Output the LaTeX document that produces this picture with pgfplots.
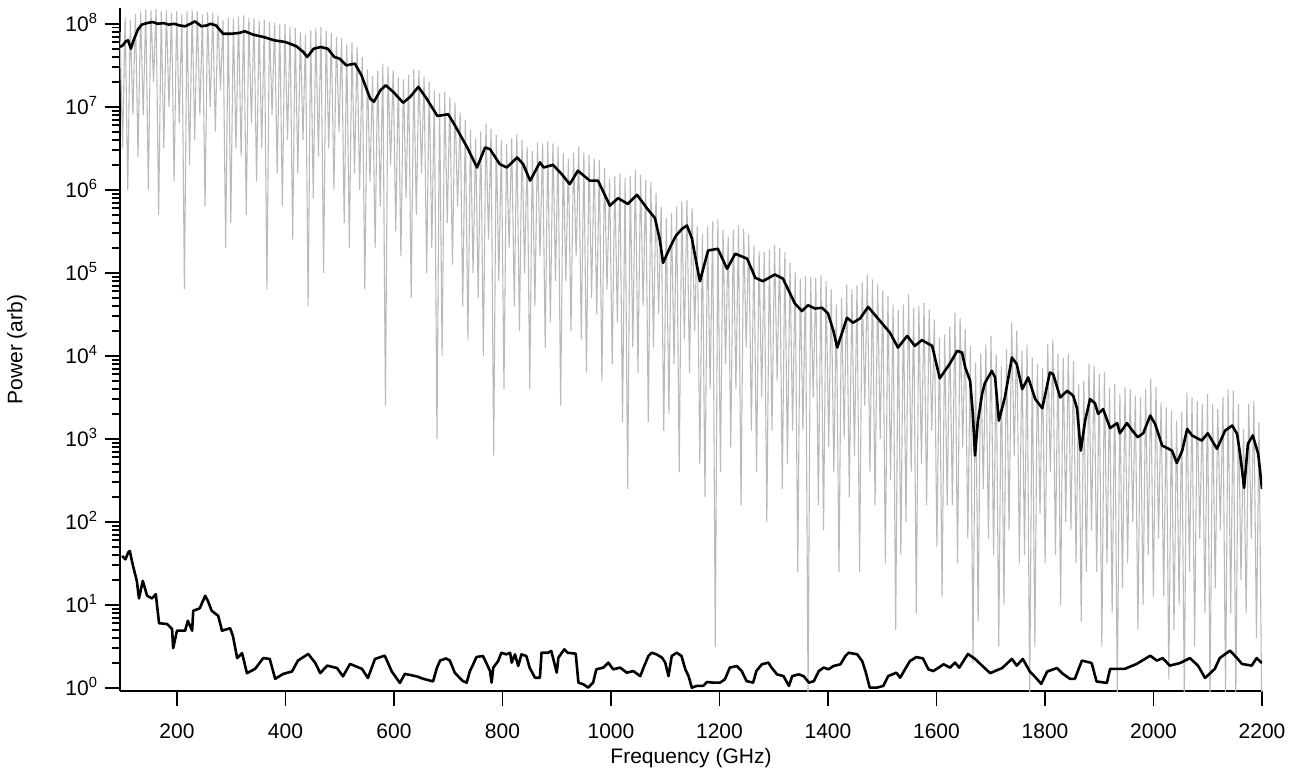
\documentclass[border=0pt]{standalone}
\usepackage{fontspec}
\setmainfont{Liberation Sans}
\usepackage{pgfplots}
\pgfplotsset{compat=1.18}
\definecolor{graytrace}{RGB}{186,186,186}
\begin{document}
\begin{tikzpicture}
\useasboundingbox (-60pt,-42.5pt) rectangle (586.5pt,345.5pt);
\begin{axis}[
  scale only axis, width=571pt, height=341.5pt,
  ymode=log, xmin=95, xmax=2200, ymin=0.92, ymax=1.55e8,
  axis x line*=bottom, axis y line*=left,
  axis line style={line width=1pt,-},
  tick align=outside,
  major tick length=7.5pt, minor tick length=4pt,
  every tick/.style={black, line width=0.9pt},
  xtick={200,400,...,2200},
  ytick={1,1e1,1e2,1e3,1e4,1e5,1e6,1e7,1e8},
  yticklabels={10\textsuperscript{0},10\textsuperscript{1},10\textsuperscript{2},10\textsuperscript{3},10\textsuperscript{4},10\textsuperscript{5},10\textsuperscript{6},10\textsuperscript{7},10\textsuperscript{8}},
  minor ytick={2,3,4,5,6,7,8,9,20,30,40,50,60,70,80,90,200,300,400,500,600,700,800,900,2e3,3e3,4e3,5e3,6e3,7e3,8e3,9e3,2e4,3e4,4e4,5e4,6e4,7e4,8e4,9e4,2e5,3e5,4e5,5e5,6e5,7e5,8e5,9e5,2e6,3e6,4e6,5e6,6e6,7e6,8e6,9e6,2e7,3e7,4e7,5e7,6e7,7e7,8e7,9e7},
  /pgf/number format/assume math mode=true,
  /pgf/number format/1000 sep={},
  tick label style={font=\fontsize{10.5}{12}\selectfont},
  label style={font=\fontsize{10.5}{12}\selectfont},
  yticklabel style={anchor=base east, yshift=-3.7pt},
  xticklabel style={yshift=-5.5pt},
  xlabel={Frequency (GHz)}, ylabel={Power (arb)},
  xlabel style={at={(axis description cs:0.5,-0.098)}, anchor=center},
  ylabel style={at={(axis description cs:-0.0902,0.5)}, anchor=center, rotate=0},
  clip=true,
]
\addplot[graytrace, line width=0.55pt] coordinates {
(95,7.94e7)(99.75,3.16e6)(104.5,1.20e8)(109.25,1e6)(114,1.12e8)(118.75,7.94e6)(123.5,1.32e8)(128.25,2.51e6)(133,1.41e8)(137.75,7.94e6)(142.5,1.48e8)(147.25,1e6)(152,1.45e8)(156.75,2e7)(161.5,1.51e8)(166.25,5.01e5)(171,1.41e8)(175.75,3.16e6)(180.5,1.45e8)(185.25,1e7)(190,1.35e8)(194.75,1.26e6)(199.5,1.41e8)(204.25,6.31e6)(209,1.32e8)(213.75,6.31e4)(218.5,1.41e8)(223.25,2e6)(228,1.48e8)(232.75,3.98e6)(237.5,1.41e8)(242.25,7.94e6)(247,1.29e8)(251.75,6.31e5)(256.5,1.38e8)(261.25,1e7)(266,1.35e8)(270.75,5.01e6)(275.5,1.26e8)(280.25,1.58e7)(285,1.10e8)(289.75,2e5)(294.5,1.17e8)(299.25,3.98e5)(304,1.15e8)(308.75,3.16e6)(313.5,1.23e8)(318.25,2.51e6)(323,1.26e8)(327.75,5.01e5)(332.5,1.17e8)(337.25,6.31e6)(342,1.15e8)(346.75,1.26e6)(351.5,1.10e8)(356.25,3.16e6)(361,1.12e8)(365.75,6.31e4)(370.5,1.05e8)(375.25,7.94e6)(380,1.02e8)(384.75,1.58e6)(389.5,9.77e7)(394.25,6.31e5)(399,1e8)(403.75,3.98e6)(408.5,9.12e7)(413.25,2.51e5)(418,8.91e7)(422.75,1.58e6)(427.5,7.94e7)(432.25,3.98e6)(437,7.41e7)(441.75,3.98e4)(446.5,8.32e7)(451.25,7.94e5)(456,8.91e7)(460.75,2.51e6)(465.5,9.12e7)(470.25,1e5)(475,8.32e7)(479.75,3.16e6)(484.5,7.76e7)(489.25,1e6)(494,6.92e7)(498.75,5.01e6)(503.5,6.76e7)(508.25,3.98e5)(513,5.62e7)(517.75,2e5)(522.5,6.03e7)(527.25,1.58e6)(532,5.25e7)(536.75,1e6)(541.5,3.98e7)(546.25,6.31e4)(551,2.82e7)(555.75,1.26e6)(560.5,2.34e7)(565.25,2e5)(570,2.69e7)(574.75,6.31e5)(579.5,3.31e7)(584.25,2.51e3)(589,3.02e7)(593.75,2e6)(598.5,2.75e7)(603.25,3.16e5)(608,2.29e7)(612.75,1.58e5)(617.5,2.14e7)(622.25,7.94e5)(627,2.40e7)(631.75,5.01e4)(636.5,2.82e7)(641.25,5.01e5)(646,2.75e7)(650.75,1.58e6)(655.5,2.29e7)(660.25,1e5)(665,2e7)(669.75,2e5)(674.5,1.58e7)(679.25,1e3)(684,1.45e7)(688.75,1e4)(693.5,1.51e7)(698.25,3.98e5)(703,1.32e7)(707.75,1.26e5)(712.5,1.12e7)(717.25,6.31e5)(722,8.51e6)(726.75,3.98e4)(731.5,6.92e6)(736.25,1.58e4)(741,5.25e6)(745.75,1e5)(750.5,4.17e6)(755.25,5.01e4)(760,5.01e6)(764.75,1e4)(769.5,6.31e6)(774.25,2.51e5)(779,5.50e6)(783.75,6.31e2)(788.5,4.57e6)(793.25,7.94e4)(798,3.98e6)(802.75,3.98e3)(807.5,3.55e6)(812.25,2e5)(817,4.17e6)(821.75,3.98e4)(826.5,4.68e6)(831.25,2e4)(836,3.98e6)(840.75,1e5)(845.5,3.31e6)(850.25,3.98e3)(855,2.95e6)(859.75,3.98e4)(864.5,3.72e6)(869.25,1.58e5)(874,3.63e6)(878.75,1.26e4)(883.5,3.80e6)(888.25,2.51e4)(893,3.63e6)(897.75,7.94e4)(902.5,3.31e6)(907.25,2.51e3)(912,2.75e6)(916.75,7.94e4)(921.5,2.40e6)(926.25,2e4)(931,2.82e6)(935.75,1.58e5)(940.5,3.31e6)(945.25,1.58e4)(950,2.82e6)(954.75,6.31e3)(959.5,2.63e6)(964.25,5.01e4)(969,2.40e6)(973.75,3.16e4)(978.5,2.29e6)(983.25,5.01e3)(988,1.82e6)(992.75,6.31e4)(997.5,1.35e6)(1002.25,7.94e3)(1007,1.45e6)(1011.75,2.51e4)(1016.5,1.58e6)(1021.25,1.58e3)(1026,1.38e6)(1030.75,2.51e2)(1035.5,1.48e6)(1040.25,1.26e4)(1045,1.74e6)(1049.75,6.31e3)(1054.5,1.51e6)(1059.25,3.98e4)(1064,1.32e6)(1068.75,1.58e3)(1073.5,1.26e6)(1078.25,1.26e4)(1083,9.12e5)(1087.75,3.16e4)(1092.5,6.31e5)(1097.25,1.26e3)(1102,4.57e5)(1106.75,2e3)(1111.5,5.25e5)(1116.25,7.94e3)(1121,6.31e5)(1125.75,3.98e2)(1130.5,7.24e5)(1135.25,1.58e4)(1140,7.59e5)(1144.75,6.31e3)(1149.5,6.03e5)(1154.25,2e4)(1159,3.63e5)(1163.75,5.01e2)(1168.5,2.95e5)(1173.25,2e2)(1178,3.63e5)(1182.75,3.98e3)(1187.5,4.17e5)(1192.25,3.16)(1197,4.37e5)(1201.75,3.98e2)(1206.5,3.31e5)(1211.25,7.94e3)(1216,2.75e5)(1220.75,7.94e2)(1225.5,3.31e5)(1230.25,3.98e3)(1235,3.72e5)(1239.75,1.58e2)(1244.5,3.39e5)(1249.25,1.26e4)(1254,2.88e5)(1258.75,1.26e3)(1263.5,2.14e5)(1268.25,3.98e2)(1273,1.82e5)(1277.75,3.16e3)(1282.5,1.78e5)(1287.25,1e2)(1292,1.95e5)(1296.75,1.26e3)(1301.5,2.19e5)(1306.25,5.01e3)(1311,2e5)(1315.75,2.51e2)(1320.5,1.78e5)(1325.25,5.01e2)(1330,1.32e5)(1334.75,1.26e3)(1339.5,1.02e5)(1344.25,2.51e1)(1349,8.51e4)(1353.75,1.26e3)(1358.5,9.12e4)(1363.25,0.8)(1368,8.91e4)(1372.75,3.16e3)(1377.5,8.71e4)(1382.25,1.58e2)(1387,9.33e4)(1391.75,7.94e1)(1396.5,7.94e4)(1401.25,7.94e2)(1406,6.31e4)(1410.75,3.98e2)(1415.5,4.17e4)(1420.25,2.51e1)(1425,5.01e4)(1429.75,1e3)(1434.5,7.24e4)(1439.25,2e2)(1444,6.31e4)(1448.75,6.31e2)(1453.5,7.08e4)(1458.25,2.51e1)(1463,7.76e4)(1467.75,2.51e3)(1472.5,9.55e4)(1477.25,3.98e2)(1482,8.32e4)(1486.75,1.58e2)(1491.5,7.24e4)(1496.25,1e3)(1501,6.03e4)(1505.75,3.16e1)(1510.5,5.25e4)(1515.25,3.16e2)(1520,4.17e4)(1524.75,5.01)(1529.5,3.55e4)(1534.25,3.98e1)(1539,4.17e4)(1543.75,1e2)(1548.5,5.50e4)(1553.25,3.98e2)(1558,3.80e4)(1562.75,7.94)(1567.5,3.98e4)(1572.25,5.01e2)(1577,4.37e4)(1581.75,1.58e2)(1586.5,3.63e4)(1591.25,1.26e3)(1596,2.75e4)(1600.75,5.01e1)(1605.5,1.66e4)(1610.25,1.26e1)(1615,1.82e4)(1619.75,1.58e2)(1624.5,2.24e4)(1629.25,1.58e2)(1634,3.31e4)(1638.75,3.16e1)(1643.5,2.88e4)(1648.25,7.94e2)(1653,2.09e4)(1657.75,6.31e1)(1662.5,1.32e4)(1667.25,2)(1672,8.32e3)(1676.75,6.31)(1681.5,1.05e4)(1686.25,2.51e2)(1691,1.38e4)(1695.75,6.31e1)(1700.5,1.74e4)(1705.25,3.98e1)(1710,1.05e4)(1714.75,3.16)(1719.5,7.59e3)(1724.25,1e1)(1729,1.20e4)(1733.75,7.94e1)(1738.5,2.51e4)(1743.25,6.31e2)(1748,2e4)(1752.75,3.16e1)(1757.5,1.15e4)(1762.25,3.98e1)(1767,1.38e4)(1771.75,0.8)(1776.5,9.55e3)(1781.25,3.16)(1786,7.94e3)(1790.75,1.26e2)(1795.5,7.24e3)(1800.25,3.16e1)(1805,1.38e4)(1809.75,3.98e2)(1814.5,1.58e4)(1819.25,3.98e1)(1824,1.05e4)(1828.75,1e1)(1833.5,9.55e3)(1838.25,1e2)(1843,1.05e4)(1847.75,7.94e1)(1852.5,8.71e3)(1857.25,3.16e1)(1862,4.57e3)(1866.75,6.31)(1871.5,5.01e3)(1876.25,2.51e1)(1881,7.94e3)(1885.75,7.94e1)(1890.5,7.59e3)(1895.25,2.51e1)(1900,6.03e3)(1904.75,3.16)(1909.5,6.31e3)(1914.25,3.16e1)(1919,4.17e3)(1923.75,7.94)(1928.5,4.57e3)(1933.25,0.8)(1938,3.47e3)(1942.75,1.58e1)(1947.5,4.17e3)(1952.25,3.16e1)(1957,3.98e3)(1961.75,1e2)(1966.5,3.31e3)(1971.25,5.01)(1976,3.16e3)(1980.75,1e1)(1985.5,3.98e3)(1990.25,3.98e1)(1995,5.25e3)(1999.75,1.26e1)(2004.5,4.17e3)(2009.25,6.31e1)(2014,2.75e3)(2018.75,1.26e1)(2023.5,2.40e3)(2028.25,1.26)(2033,2.19e3)(2037.75,5.01)(2042.5,1.66e3)(2047.25,1e1)(2052,2.09e3)(2056.75,0.8)(2061.5,3.63e3)(2066.25,2.51e1)(2071,3.16e3)(2075.75,3.16)(2080.5,2.88e3)(2085.25,6.31e1)(2090,2.63e3)(2094.75,7.94)(2099.5,3.47e3)(2104.25,0.8)(2109,2.63e3)(2113.75,1.58e1)(2118.5,2.29e3)(2123.25,7.94e1)(2128,3.16e3)(2132.75,0.8)(2137.5,3.98e3)(2142.25,7.94)(2147,3.80e3)(2151.75,0.8)(2156.5,2.63e3)(2161.25,2e1)(2166,1.32e3)(2170.75,7.94)(2175.5,2.63e3)(2180.25,6.31e1)(2185,2.88e3)(2189.75,3.98)(2194.5,1.58e3)(2199.25,0.8)
};
\addplot[black, line width=1.3pt, line join=round] coordinates {
(95,5.25e7)(100,5.50e7)(106,6.17e7)(110,6.31e7)(115,5.01e7)(120,6.31e7)(128,8.51e7)(135,9.77e7)(145,1.02e8)(155,1.05e8)(165,1.00e8)(175,1.02e8)(185,9.77e7)(195,1.00e8)(205,9.55e7)(215,9.33e7)(225,1.00e8)(233,1.07e8)(245,9.33e7)(255,9.55e7)(262,1.00e8)(272,9.55e7)(285,7.59e7)(300,7.59e7)(315,7.76e7)(325,8.13e7)(340,7.41e7)(360,6.92e7)(380,6.31e7)(400,6.03e7)(420,5.37e7)(433,4.57e7)(440,3.98e7)(452,5.01e7)(465,5.25e7)(478,5.01e7)(490,3.98e7)(500,3.80e7)(512,3.16e7)(528,3.31e7)(540,2.40e7)(556,1.26e7)(563,1.15e7)(575,1.58e7)(585,1.82e7)(600,1.48e7)(617,1.12e7)(630,1.32e7)(645,1.74e7)(660,1.26e7)(680,7.76e6)(700,8.13e6)(712,6.03e6)(735,3.24e6)(753,1.86e6)(768,3.24e6)(777,3.09e6)(795,2.04e6)(808,1.86e6)(827,2.45e6)(838,2.04e6)(851,1.29e6)(869,2.14e6)(876,1.86e6)(893,2.00e6)(909,1.55e6)(924,1.17e6)(939,1.70e6)(961,1.29e6)(976,1.29e6)(998,6.46e5)(1013,7.94e5)(1031,6.76e5)(1048,8.71e5)(1066,6.03e5)(1081,4.57e5)(1090,2.51e5)(1096,1.32e5)(1109,2.04e5)(1120,2.82e5)(1131,3.39e5)(1140,3.72e5)(1149,2.63e5)(1158,1.26e5)(1164,7.94e4)(1179,1.86e5)(1197,1.95e5)(1214,1.12e5)(1229,1.70e5)(1251,1.48e5)(1266,8.71e4)(1280,7.94e4)(1302,9.55e4)(1317,8.51e4)(1339,4.27e4)(1352,3.47e4)(1363,4.07e4)(1376,3.72e4)(1389,3.80e4)(1400,3.24e4)(1410,2.00e4)(1417,1.26e4)(1435,2.88e4)(1446,2.51e4)(1459,2.82e4)(1474,3.89e4)(1496,2.63e4)(1514,1.91e4)(1529,1.26e4)(1546,1.74e4)(1560,1.32e4)(1573,1.55e4)(1592,1.32e4)(1606,5.37e3)(1625,8.13e3)(1638,1.15e4)(1647,1.10e4)(1653,7.24e3)(1662,5.01e3)(1667,2.00e3)(1671,6.31e2)(1676,1.58e3)(1684,3.47e3)(1689,4.68e3)(1702,6.61e3)(1708,5.50e3)(1715,1.66e3)(1726,3.16e3)(1739,9.55e3)(1748,7.94e3)(1758,3.98e3)(1769,5.50e3)(1782,3.02e3)(1795,2.34e3)(1809,6.31e3)(1815,6.03e3)(1828,3.16e3)(1841,3.80e3)(1852,3.31e3)(1859,2.34e3)(1866,7.24e2)(1874,1.66e3)(1883,3.02e3)(1892,2.69e3)(1898,2.00e3)(1907,2.29e3)(1920,1.35e3)(1933,1.55e3)(1938,1.17e3)(1951,1.55e3)(1961,1.26e3)(1971,1.05e3)(1981,1.17e3)(1994,1.91e3)(2003,1.51e3)(2016,8.32e2)(2025,7.76e2)(2034,7.24e2)(2043,5.13e2)(2053,7.24e2)(2062,1.32e3)(2071,1.10e3)(2089,9.55e2)(2100,1.17e3)(2117,7.59e2)(2132,1.26e3)(2145,1.45e3)(2154,1.15e3)(2160,6.31e2)(2167,2.57e2)(2174,8.71e2)(2183,1.10e3)(2193,6.61e2)(2200,2.51e2)
};
\addplot[black, line width=1.3pt, line join=round] coordinates {
(99,38.9)(105,35.5)(110,42.7)(113,44.7)(119,29.5)(126,19.5)(130,12.0)(137,19.5)(145,12.9)(154,12.0)(161,13.5)(167,6.03)(182,5.89)(191,5.13)(193,3.02)(200,4.90)(215,4.90)(220,6.46)(228,4.90)(230,8.51)(242,9.12)(252,12.9)(257,11.2)(264,8.51)(276,7.41)(283,4.90)(298,5.25)(303,4.27)(311,2.29)(320,2.63)(329,1.51)(344,1.70)(359,2.29)(371,2.24)(381,1.29)(396,1.48)(412,1.58)(423,2.14)(442,2.57)(455,2.00)(464,1.51)(477,1.86)(495,1.74)(506,1.38)(519,1.95)(541,1.70)(552,1.32)(565,2.24)(583,2.45)(596,1.58)(611,1.15)(620,1.48)(642,1.38)(654,1.29)(672,1.20)(679,1.74)(685,2.14)(696,2.27)(703,2.14)(712,1.53)(718,1.39)(727,1.21)(734,1.16)(740,1.60)(746,1.93)(752,2.36)(764,2.43)(770,2.02)(777,1.60)(780,1.16)(783,1.76)(792,2.11)(798,2.66)(807,2.54)(814,2.66)(817,2.02)(823,2.54)(829,1.84)(835,2.54)(844,2.43)(850,1.76)(860,1.33)(869,1.33)(872,2.66)(884,2.66)(890,2.79)(900,1.53)(903,2.32)(914,2.92)(920,2.66)(935,2.59)(940,1.16)(949,1.11)(958,1.01)(967,1.16)(973,1.68)(986,1.76)(995,2.02)(1004,1.68)(1017,1.76)(1029,1.53)(1041,1.60)(1054,1.39)(1060,1.76)(1069,2.43)(1075,2.66)(1084,2.54)(1094,2.32)(1100,2.02)(1106,1.39)(1112,2.43)(1121,2.66)(1130,2.43)(1137,1.68)(1143,1.39)(1149,1.01)(1158,1.06)(1170,1.06)(1177,1.18)(1189,1.16)(1201,1.16)(1210,1.27)(1219,1.76)(1232,1.84)(1241,1.60)(1250,1.21)(1262,1.16)(1268,1.60)(1278,1.93)(1290,2.02)(1296,1.76)(1306,1.46)(1318,1.39)(1328,1.06)(1334,1.39)(1346,1.46)(1355,1.39)(1365,1.16)(1374,1.21)(1383,1.60)(1392,1.76)(1401,1.68)(1410,1.84)(1423,1.93)(1432,2.43)(1438,2.66)(1454,2.54)(1463,2.11)(1469,1.60)(1477,1.01)(1490,1.01)(1502,1.06)(1511,1.39)(1526,1.53)(1533,1.33)(1542,1.68)(1551,2.11)(1563,2.36)(1575,2.27)(1585,1.68)(1594,1.60)(1604,1.76)(1613,1.93)(1625,1.76)(1634,2.02)(1642,1.76)(1658,2.57)(1671,2.24)(1684,1.86)(1699,1.51)(1721,1.74)(1739,2.24)(1748,1.86)(1759,2.24)(1772,1.58)(1785,1.29)(1793,1.12)(1804,1.58)(1822,1.74)(1833,1.48)(1846,1.29)(1855,1.29)(1868,2.14)(1886,2.00)(1895,1.20)(1914,1.15)(1920,1.70)(1947,1.70)(1969,1.95)(1994,2.45)(2006,2.14)(2017,2.29)(2030,1.86)(2049,2.00)(2067,2.29)(2082,1.86)(2095,1.32)(2113,1.70)(2122,2.29)(2141,2.82)(2154,2.29)(2163,1.95)(2181,1.86)(2190,2.29)(2200,2.00)
};
\end{axis}
\end{tikzpicture}
\end{document}
